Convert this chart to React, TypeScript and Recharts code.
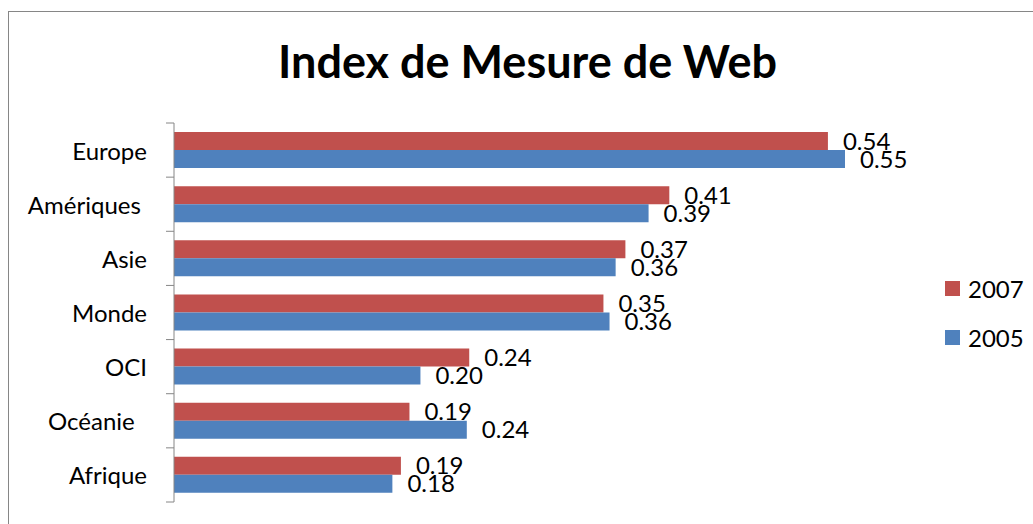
import { BarChart, Bar, XAxis, YAxis, LabelList } from "recharts";

const categories = ["Europe", "Amériques ", "Asie", "Monde", "OCI", "Océanie  ", "Afrique"];
const values2007 = [0.536, 0.406, 0.37, 0.352, 0.242, 0.193, 0.186];
const values2005 = [0.55, 0.389, 0.362, 0.357, 0.202, 0.24, 0.179];
const seriesNames = ["2007", "2005"];
const seriesColors = ["#C0504D", "#4F81BD"];

const data = categories.map((name, i) => ({ name, y2007: values2007[i], y2005: values2005[i] }));

const FONT = "Lato, 'Open Sans', sans-serif";
const PLOT_TOP = 123;
const PLOT_BOTTOM = 502;
const band = (PLOT_BOTTOM - PLOT_TOP) / categories.length;

function CategoryTick(props: any) {
  const { x, y, payload, index } = props;
  // x here is the text anchor (axis x - 8), so tick marks run from x to x + 8
  return (
    <g>
      <line x1={x} x2={x + 8} y1={y - band / 2} y2={y - band / 2} stroke="#868686" />
      {index === categories.length - 1 && (
        <line x1={x} x2={x + 8} y1={y + band / 2} y2={y + band / 2} stroke="#868686" />
      )}
      <text
        x={x - 19}
        y={y}
        textAnchor="end"
        dominantBaseline="central"
        fontSize={24}
        fontFamily={FONT}
        fill="#000"
        style={{ whiteSpace: "pre" }}
      >
        {payload.value}
      </text>
    </g>
  );
}

export default function App() {
  return (
    <div style={{ position: "absolute", left: 0, top: 0, width: 1033, height: 524, background: "#fff", overflow: "hidden" }}>
      <div
        style={{
          position: "absolute",
          left: 8,
          top: 11,
          width: 1100,
          height: 600,
          borderLeft: "1px solid #868686",
          borderTop: "1px solid #868686",
        }}
      />
      <div
        style={{
          position: "absolute",
          left: 0,
          top: 39,
          width: 1055,
          textAlign: "center",
          fontFamily: FONT,
          fontWeight: 700,
          fontSize: 45,
          lineHeight: 1,
          color: "#000",
        }}
      >
        Index de Mesure de Web
      </div>
      <div style={{ position: "absolute", left: 0, top: 0 }}>
        <BarChart
          width={1033}
          height={524}
          data={data}
          layout="vertical"
          margin={{ top: PLOT_TOP, bottom: 524 - PLOT_BOTTOM, left: 0, right: 127 }}
          barCategoryGap="16.6%"
          barGap={0}
        >
          <XAxis type="number" domain={[0, 0.6]} hide />
          <YAxis
            type="category"
            dataKey="name"
            width={174}
            axisLine={{ stroke: "#868686" }}
            tickLine={false}
            tick={<CategoryTick />}
            interval={0}
          />
          <Bar dataKey="y2007" name="2007" fill={seriesColors[0]} isAnimationActive={false}>
            <LabelList
              dataKey="y2007"
              position="right"
              offset={15}
              formatter={(v: any) => Number(v).toFixed(2)}
              style={{ fontSize: 24, fontFamily: FONT, fill: "#000" }}
            />
          </Bar>
          <Bar dataKey="y2005" name="2005" fill={seriesColors[1]} isAnimationActive={false}>
            <LabelList
              dataKey="y2005"
              position="right"
              offset={15}
              formatter={(v: any) => Number(v).toFixed(2)}
              style={{ fontSize: 24, fontFamily: FONT, fill: "#000" }}
            />
          </Bar>
        </BarChart>
      </div>
      <div style={{ position: "absolute", left: 945, top: 264, fontFamily: FONT, fontSize: 24, color: "#000" }}>
        {seriesNames.map((n, i) => (
          <div key={n} style={{ display: "flex", alignItems: "center", height: 49 }}>
            <span style={{ width: 15, height: 15, background: seriesColors[i], marginRight: 8 }} />
            {n}
          </div>
        ))}
      </div>
    </div>
  );
}
